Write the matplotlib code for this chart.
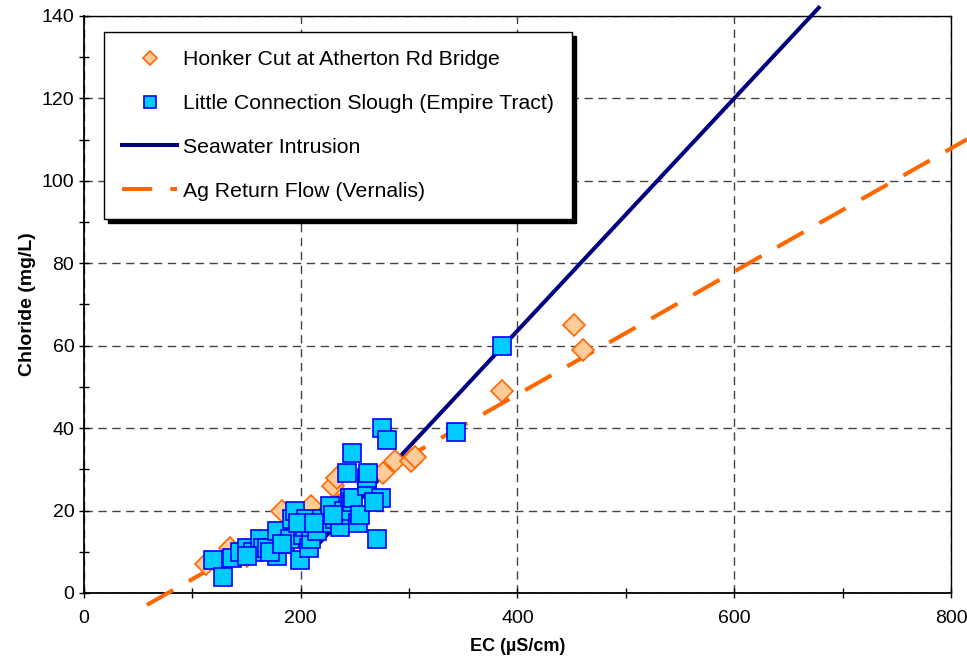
"""
Chloride vs EC scatter with seawater / ag return flow mixing lines
"""
import numpy as np
import matplotlib.pyplot as plt
from matplotlib.ticker import MultipleLocator

plt.rcParams['font.family'] = ['Liberation Sans', 'DejaVu Sans']

# Honker Cut at Atherton Rd Bridge
honker_ec = np.array([113, 135, 150, 165, 183, 196, 209, 222, 230, 233, 276, 287, 302, 305, 386, 452, 460])
honker_cl = np.array([7, 11, 9, 12, 20, 16, 21, 18, 26, 28, 29, 32, 32, 33, 49, 65, 59])

# Little Connection Slough (Empire Tract)
empire_ec = np.array([119, 128, 137, 144, 150, 156, 162, 165, 169, 178, 178, 185, 190, 192, 195, 199,
                      202, 204, 205, 208, 209, 209, 215, 220, 227, 227, 232, 233, 236, 236, 240, 243,
                      245, 247, 247, 248, 253, 261, 261, 262, 270, 274, 275, 280, 343, 386, 150, 172,
                      183, 197, 212, 230, 255, 268])
empire_cl = np.array([8, 4, 8.5, 10, 11, 10, 13, 11, 11, 15, 9, 12, 13, 18, 20, 8,
                      14, 16, 18, 11, 13, 16, 15, 18, 17, 21, 18, 19, 16, 19, 20, 29,
                      23, 22, 34, 23, 17, 26, 28, 29, 13, 23, 40, 37, 39, 60, 9, 10,
                      12, 17, 17, 19, 19, 22])

# mixing lines
sea_ec = np.array([215, 678])
sea_cl = np.array([11.5, 142.0])
ag_ec = np.array([58, 815])
ag_cl = np.array([-2.9, 110.1])

fig = plt.figure(figsize=(9.67, 6.63), dpi=100)
ax = fig.add_axes([0.0869, 0.1056, 0.8965, 0.8703])

ax.plot(sea_ec, sea_cl, '-', color='#000080', lw=2.9, clip_on=False, zorder=3,
        label='Seawater Intrusion')
ax.plot(ag_ec, ag_cl, '-', color='#FF6600', lw=2.9, dashes=(7.5, 4.5), clip_on=False, zorder=3,
        label='Ag Return Flow (Vernalis)')
ax.plot(honker_ec, honker_cl, 'D', ms=11.2, mfc='#FFCC99', mec='#FF6600', mew=1.2, ls='none',
        zorder=4, clip_on=False, label='Honker Cut at Atherton Rd Bridge')
ax.plot(empire_ec, empire_cl, 's', ms=13.3, mfc='#00CCFF', mec='#0000FF', mew=1.2, ls='none',
        zorder=5, clip_on=False, label='Little Connection Slough (Empire Tract)')

ax.set_xlim(0, 800)
ax.set_ylim(0, 140)
ax.xaxis.set_major_locator(MultipleLocator(200))
ax.xaxis.set_minor_locator(MultipleLocator(100))
ax.yaxis.set_major_locator(MultipleLocator(20))
ax.yaxis.set_minor_locator(MultipleLocator(10))
ax.tick_params(which='both', direction='inout', length=7, width=1, labelsize=14, colors='black')
ax.tick_params(axis='x', pad=9)
ax.grid(which='major', color='#444444', ls=(0, (6, 4)), lw=1)
for s in ax.spines.values():
    s.set_color('black')
    s.set_linewidth(1)
ax.spines['left'].set_linewidth(1.3)
ax.spines['bottom'].set_linewidth(1.3)

ax.set_xlabel('EC (\u00b5S/cm)', fontsize=13, fontweight='bold', labelpad=8)
ax.set_ylabel('Chloride (mg/L)', fontsize=14, fontweight='bold', labelpad=4)

h, l = ax.get_legend_handles_labels()
order = [2, 3, 0, 1]
leg = ax.legend([h[i] for i in order], [l[i] for i in order], loc='upper left',
                bbox_to_anchor=(0.023, 0.972), borderaxespad=0, fontsize=15.3,
                frameon=True, fancybox=False, edgecolor='black', framealpha=1,
                shadow={'color': 'black', 'alpha': 1, 'ox': 3, 'oy': -3},
                markerscale=0.68, labelspacing=1.17, handlelength=2.6, handletextpad=0.25,
                borderpad=0.85)
leg.get_frame().set_linewidth(1)
leg.set_zorder(10)

plt.savefig('out.png', dpi=100)
